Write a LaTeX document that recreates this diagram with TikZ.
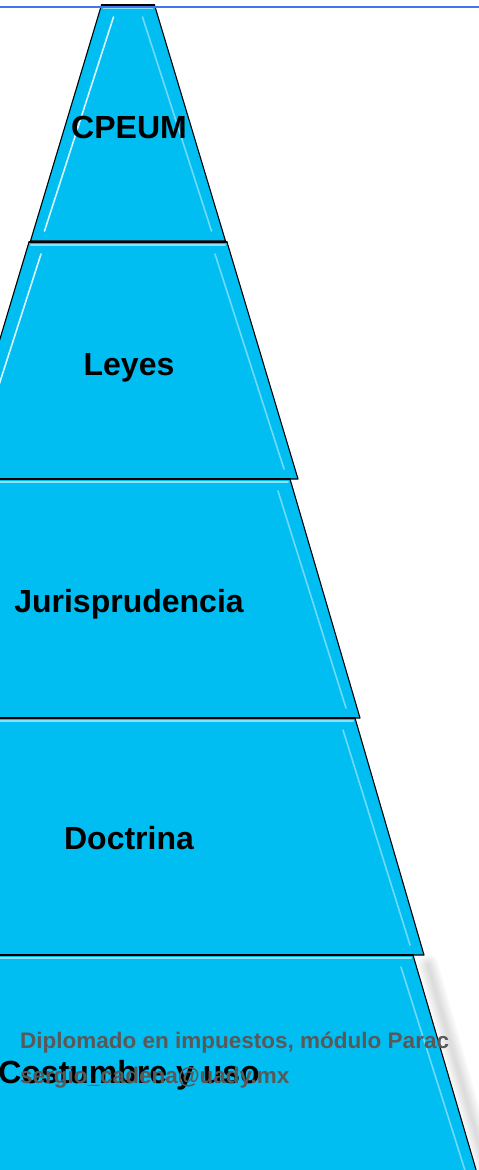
\documentclass[tikz,border=0pt]{standalone}
\usepackage{fontspec}
\setmainfont{Liberation Sans}
\definecolor{cian}{RGB}{0,190,242}
\definecolor{brillo}{RGB}{140,225,250}
\definecolor{gris}{RGB}{89,89,89}
\definecolor{azul}{RGB}{66,118,240}
\begin{document}
\begin{tikzpicture}[x=1pt,y=-1pt,line join=round,line cap=round,
  nivel/.style={fill=cian,draw=black,line width=1.1pt},
  etiq/.style={anchor=base,inner sep=0pt,font=\bfseries\fontsize{32}{38}\selectfont},
  piepag/.style={anchor=base west,inner sep=0pt,text=gris,font=\bfseries\fontsize{22.5}{26}\selectfont}]
\useasboundingbox (0,0) rectangle (479,1170);
% sombra del ultimo nivel
\foreach \s in {3,6,...,21}
  \draw[black,opacity=0.018,line width=\s pt] (428,965) -- (488,1175);
% niveles de la piramide
\foreach \yt/\yb/\wt/\wb/\bl/\txt [count=\i] in {5/241/26.5/97.5/138/CPEUM,
    242/479/99/170/375/Leyes, 479/718/162/232/612/Jurisprudencia,
    718/955/227/296/849/Doctrina, 955/1190/285/354/1083/Costumbre y uso}{
  \draw[nivel] (128-\wt,\yt) -- (128+\wt,\yt) -- (128+\wb,\yb) -- (128-\wb,\yb) -- cycle;
  \draw[brillo,line width=2pt] (128-\wt+2,\yt+2.5) -- (128+\wt-2,\yt+2.5);
  \draw[white,opacity=0.85,line width=1.6pt] (128-\wt+12,\yt+12) -- (128-\wb+14,\yb-10);
  \draw[brillo,opacity=0.8,line width=1.6pt] (128+\wt-12,\yt+12) -- (128+\wb-14,\yb-10);
  \draw[black,line width=1.1pt] (128-\wt,\yt) -- (128+\wt,\yt);
  \node[etiq] (n\i) at (129,\bl) {\txt};
}
% pie de pagina
\node[piepag] (pie1) at (20,1048) {Diplomado en impuestos, módulo Parac};
\node[piepag] (pie2) at (20,1083) {sergio\_cadena@uady.mx};
\draw[azul,line width=2pt] (0,6.8) -- (479,6.8);
\end{tikzpicture}
\end{document}
